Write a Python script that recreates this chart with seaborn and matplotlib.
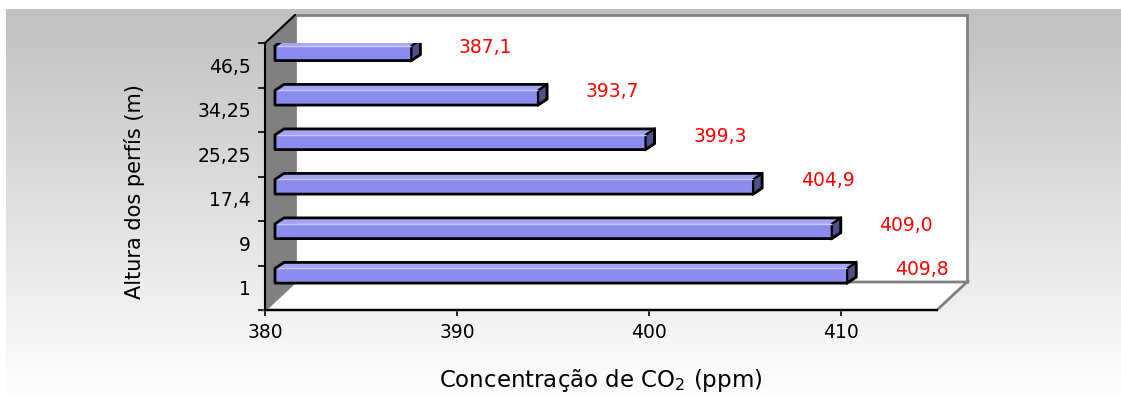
import numpy as np
import pandas as pd
import matplotlib
matplotlib.use("Agg")
import matplotlib.pyplot as plt
import seaborn as sns
from matplotlib.patches import Polygon, Rectangle
from matplotlib.transforms import Affine2D, IdentityTransform

# dados (de cima para baixo, como no gráfico)
alturas = ["46,5", "34,25", "25,25", "17,4", "9", "1"]
co2 = [387.1, 393.7, 399.3, 404.9, 409.0, 409.8]
rotulos = ["387,1", "393,7", "399,3", "404,9", "409,0", "409,8"]
x_ticks = [380, 390, 400, 410]

df = pd.DataFrame({"altura": alturas, "co2": co2})

sns.set_style("white")
plt.rcParams['font.family'] = ['DejaVu Sans']

W, H = 1121, 396
fig = plt.figure(figsize=(W / 100, H / 100), dpi=100)
fig.patch.set_facecolor("white")

# fundo em degradê cinza
bg = fig.add_axes([0, 0, 1, 1], zorder=-5)
grad = np.linspace(192, 254, 256)[:, None] / 255.0
grad = np.repeat(grad, 2, axis=1)
bg.imshow(np.dstack([grad, grad, grad]), aspect="auto",
          extent=[6 / W, 1, 0, (H - 9) / H], interpolation="bilinear")
bg.set_xlim(0, 1)
bg.set_ylim(0, 1)
bg.axis("off")

# eixo principal (plano frontal)
ax = fig.add_axes([265 / W, (H - 310) / H, 672 / W, 267 / H])
ax.set_facecolor("none")

XMIN, XMAX = 380, 415
DX, DY = 30, 28          # profundidade das paredes (px)
BDX, BDY = 10, -12       # deslocamento das barras (px)
EDX, EDY = 9, 6          # profundidade das barras (px)

sns.barplot(data=df, x="co2", y="altura", orient="h", width=0.33,
            color="#8c8cef", saturation=1, edgecolor="none", ax=ax, zorder=3)
bars = list(ax.patches)
ax.set_xlim(XMIN, XMAX)
ax.set_ylim(len(alturas) - 0.5, -0.5)

# paredes em perspectiva (coordenadas do eixo)
dxa, dya = DX / 672, DY / 267
back = Rectangle((dxa, dya), 1, 1, transform=ax.transAxes, facecolor="white",
                 edgecolor="#808080", lw=2, zorder=0.5, clip_on=False)
floor = Polygon([(0, 0), (1, 0), (1 + dxa, dya), (dxa, dya)], closed=True,
                transform=ax.transAxes, facecolor="white", edgecolor="#808080",
                lw=2, zorder=0.6, clip_on=False)
wall = Polygon([(0, 0), (0, 1), (dxa, 1 + dya), (dxa, dya)], closed=True,
               transform=ax.transAxes, facecolor="#808080", edgecolor="none",
               zorder=0.7, clip_on=False)
for p in (back, floor, wall):
    ax.add_patch(p)
ax.plot([0, dxa], [1, 1 + dya], color="black", lw=1.5, transform=ax.transAxes,
        clip_on=False, zorder=0.8)

# barras 3D a partir dos retângulos do seaborn
shift = ax.transData + Affine2D().translate(BDX, -BDY)
for p, txt in zip(bars, rotulos):
    w = p.get_width()
    p.set_x(XMIN)
    p.set_width(w - XMIN)
    p.set_transform(shift)
    p.set_clip_on(False)
    y0 = p.get_y()
    y1 = y0 + p.get_height()
    # cantos em pixels
    (xa, yb) = shift.transform((XMIN, y1))
    (xb, yt) = shift.transform((w, y0))
    top = Polygon([(xa, yt), (xb, yt), (xb + EDX, yt + EDY), (xa + EDX, yt + EDY)],
                  closed=True, transform=IdentityTransform(), facecolor="#a4a4f6",
                  edgecolor="none", zorder=3.1)
    end = Polygon([(xb, yb), (xb, yt), (xb + EDX, yt + EDY), (xb + EDX, yb + EDY)],
                  closed=True, transform=IdentityTransform(), facecolor="#50508a",
                  edgecolor="black", lw=1.6, zorder=3.2)
    outline = Polygon([(xa, yb), (xa, yt), (xa + EDX, yt + EDY), (xb + EDX, yt + EDY),
                       (xb + EDX, yb + EDY), (xb, yb)], closed=True,
                      transform=IdentityTransform(), facecolor="none",
                      edgecolor="black", lw=2, zorder=3.3, joinstyle="round")
    hl = Polygon([(xa + 2, yt), (xb, yt)], closed=False, transform=IdentityTransform(),
                 fill=False, edgecolor="#c8c8ff", lw=1, zorder=3.25)
    for q in (top, end, outline, hl):
        ax.add_artist(q)
    # rótulo de valor
    yc = (y0 + y1) / 2
    ax.annotate(txt, xy=(w + 3.0, yc), xycoords="data", xytext=(0, 18),
                textcoords="offset pixels", ha="left", va="center",
                color="red", fontsize=13.5, annotation_clip=False, zorder=4)

# eixos e marcas
for s in ("top", "right"):
    ax.spines[s].set_visible(False)
for s in ("left", "bottom"):
    ax.spines[s].set_color("black")
    ax.spines[s].set_linewidth(1.5)
    ax.spines[s].set_zorder(2.5)

ax.set_xticks(x_ticks)
ax.set_xticklabels([str(t) for t in x_ticks])
ax.tick_params(axis="x", direction="out", length=4, width=1.2, pad=5,
               labelsize=13.5, colors="black", bottom=True)
ypos = np.arange(len(alturas))
ax.set_yticks(np.arange(-0.5, len(alturas), 1.0))
ax.set_yticklabels([])
ax.set_yticks(ypos, minor=True)
ax.set_yticklabels(alturas, minor=True)
ax.tick_params(axis="y", which="major", direction="out", length=5, width=1.2,
               left=True, colors="black")
ax.tick_params(axis="y", which="minor", length=0, pad=10, labelsize=13.5,
               colors="black")

ax.set_xlabel("Concentração de CO$_2$ (ppm)", fontsize=16.5, color="black")
ax.xaxis.set_label_coords(0.5, -(367 - 310) / 267)
ax.set_ylabel("Altura dos perfís (m)", fontsize=15, color="black")
ax.yaxis.set_label_coords((145 - 265) / 672, (310 - 192) / 267)

fig.savefig("out.png", dpi=100)
